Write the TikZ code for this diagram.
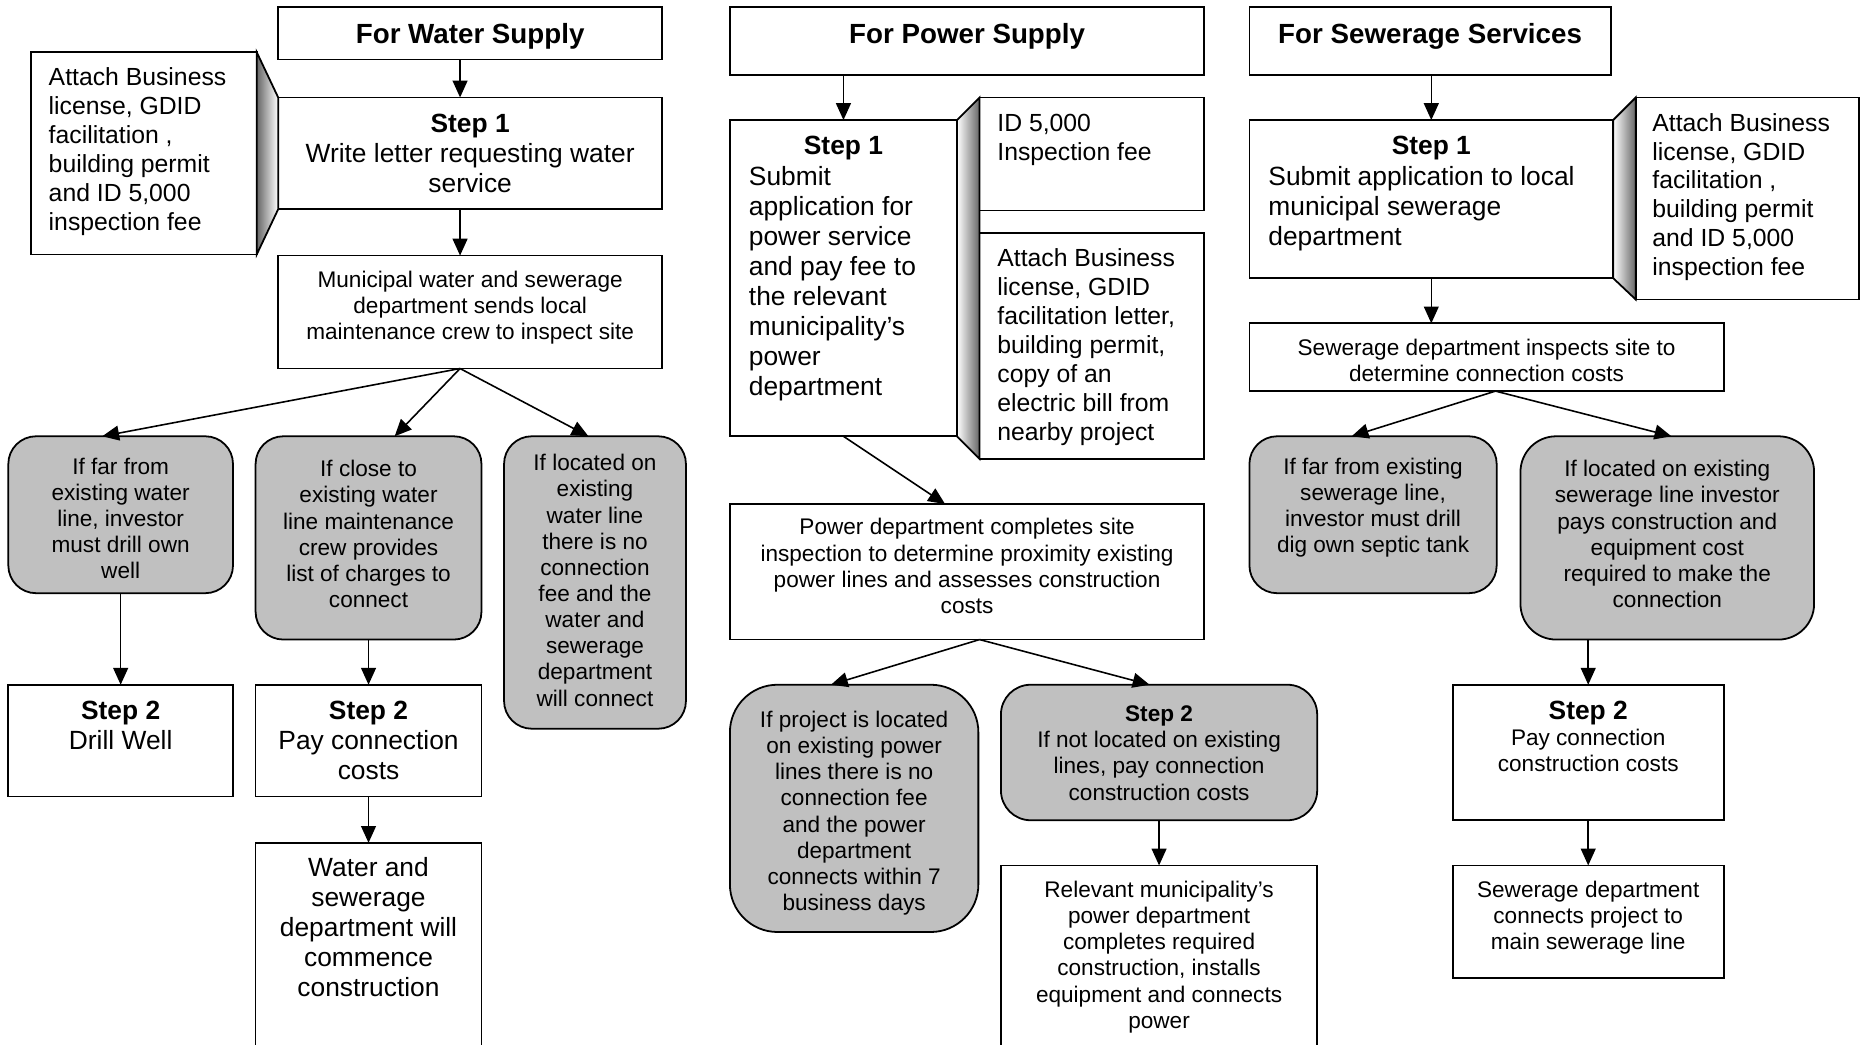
\documentclass[tikz,border=0pt]{standalone}
\usepackage{fontspec}
\setmainfont{Liberation Sans}
\usetikzlibrary{arrows.meta,calc}

\newlength\upx \setlength\upx{0.6pt}
\definecolor{boxgray}{RGB}{192,192,192}
\newcommand\fsm{\fontsize{11.4pt}{13.2pt}\selectfont}
\newcommand\flg{\fontsize{12.5pt}{14.6pt}\selectfont}
\newcommand\fst{\fontsize{13.3pt}{15.2pt}\selectfont}
\newcommand\fttl{\fontsize{14pt}{16pt}\selectfont\bfseries}
\newcommand\algc[1]{\centering\leftskip=#1\upx plus 1fil\rightskip=#1\upx plus 1fil\relax}
\newcommand\algl[1]{\raggedright\leftskip=#1\upx\relax}
% box contents: width, height, first baseline below top, font and alignment, text
\newcommand\boxbody[5]{\begin{minipage}[c][#2\upx][t]{#1\upx}#4\vspace*{\dimexpr#3\upx-\ht\strutbox\relax}\strut#5\par\end{minipage}}

\tikzset{
  bx/.style={draw, line width=0.9pt, inner sep=0pt, outer sep=0pt, anchor=north west, fill=white},
  gbx/.style={bx, fill=boxgray, rounded corners=#1},
  gbx/.default=14pt,
  arr/.style={line width=0.8pt, -{Triangle[length=8.5pt,width=7.5pt]}},
  bevel/.style={draw, line width=0.9pt},
}

\begin{document}
\begin{tikzpicture}[x=0.6pt,y=-0.6pt]
\useasboundingbox (0,0) rectangle (1568,879);
\clip (0,0) rectangle (1568,879);

% ---------------- Water supply ----------------
\node[bx] (t1) at (234,6) {\boxbody{323}{44}{31}{\fttl\algc{4}}{For Water Supply}};
\node[bx] (cw) at (26,44) {\boxbody{190}{170}{28.3}{\flg\algl{15}}{Attach Business\\license, GDID\\facilitation ,\\building permit\\and ID 5,000\\inspection fee}};
\node[bx] (w1) at (234,82) {\boxbody{323}{94}{29.3}{\fst\algc{6}}{\textbf{Step 1}\\Write letter requesting water\\service}};
\node[bx] (w2) at (234,215) {\boxbody{323}{95}{27}{\fsm\algc{6}}{Municipal water and sewerage\\department sends local\\maintenance crew to inspect site}};
\node[gbx] (wa) at (7,367) {\boxbody{189}{132}{32}{\fsm\algc{4}}{If far from\\existing water\\line, investor\\must drill own\\well}};
\node[gbx] (wb) at (215,367) {\boxbody{190}{171}{34}{\fsm\algc{4}}{If close to\\existing water\\line maintenance\\crew provides\\list of charges to\\connect}};
\node[gbx] (wc) at (424,367) {\boxbody{153}{246}{29}{\fsm\algc{4}}{If located on\\existing\\water line\\there is no\\connection\\fee and the\\water and\\sewerage\\department\\will connect}};
\node[bx] (wd) at (7,576) {\boxbody{189}{94}{29.3}{\fst\algc{4}}{\textbf{Step 2}\\Drill Well}};
\node[bx] (we) at (215,576) {\boxbody{190}{94}{29.3}{\fst\algc{4}}{\textbf{Step 2}\\Pay connection\\costs}};
\node[bx] (wf) at (215,709) {\boxbody{190}{200}{28.3}{\fst\algc{4}}{Water and\\sewerage\\department will\\commence\\construction}};

\shade[bevel, left color=black!60, right color=white] (cw.north east) -- (w1.north west) -- (w1.south west) -- (cw.south east) -- cycle;

\coordinate (xw) at (387,0);
\draw[arr] (t1.south -| xw) -- (w1.north -| xw);
\draw[arr] (w1.south -| xw) -- (w2.north -| xw);
\coordinate (w2b) at ($(w2.south west)+(153,0)$);
\draw[arr] (w2b) -- ($(wa.north west)+(79,0)$);
\draw[arr] (w2b) -- ($(wb.north west)+(117,0)$);
\draw[arr] (w2b) -- ($(wc.north west)+(71,0)$);
\draw[arr] (wa.south) -- (wd.north);
\draw[arr] (wb.south) -- (we.north);
\draw[arr] (we.south) -- (wf.north);

% ---------------- Power supply ----------------
\node[bx] (t2) at (614,6) {\boxbody{399}{57}{31}{\fttl\algc{4}}{For Power Supply}};
\node[bx] (p1) at (614,101) {\boxbody{191}{266}{29.3}{\fst\algc{4}}{\textbf{Step 1}\par\raggedright\leftskip=16\upx Submit\\application for\\power service\\and pay fee to\\the relevant\\municipality’s\\power\\department}};
\node[bx] (pa) at (824,82) {\boxbody{189}{95}{28.3}{\flg\algl{15}}{ID 5,000\\Inspection fee}};
\node[bx] (pb) at (824,196) {\boxbody{189}{190}{28.3}{\flg\algl{15}}{Attach Business\\license, GDID\\facilitation letter,\\building permit,\\copy of an\\electric bill from\\nearby project}};
\node[bx] (p2) at (614,424) {\boxbody{399}{114}{26}{\fsm\algc{6}}{Power department completes site\\inspection to determine proximity existing\\power lines and assesses construction\\costs}};
\node[gbx=24pt] (pga) at (614,576) {\boxbody{209}{208}{36}{\fsm\algc{4}}{If project is located\\on existing power\\lines there is no\\connection fee\\and the power\\department\\connects within 7\\business days}};
\node[gbx=15pt] (pgb) at (842,576) {\boxbody{266}{114}{31}{\fsm\algc{4}}{\textbf{Step 2}\\If not located on existing\\lines, pay connection\\construction costs}};
\node[bx] (pc) at (842,728) {\boxbody{266}{200}{27}{\fsm\algc{4}}{Relevant municipality’s\\power department\\completes required\\construction, installs\\equipment and connects\\power}};

\shade[bevel, left color=white, right color=black!60] (p1.north east) -- (pa.north west) -- (pb.south west) -- (p1.south east) -- cycle;

\draw[arr] (t2.south -| p1.north) -- (p1.north);
\draw[arr] (p1.south) -- ($(p2.north west)+(181,0)$);
\coordinate (p2b) at ($(p2.south west)+(210,0)$);
\draw[arr] (p2b) -- ($(pga.north west)+(85,0)$);
\draw[arr] (p2b) -- ($(pgb.north west)+(125,0)$);
\draw[arr] (pgb.south) -- (pc.north);

% ---------------- Sewerage services ----------------
\node[bx] (t3) at (1051,6) {\boxbody{304}{57}{31}{\fttl\algc{4}}{For Sewerage Services}};
\node[bx] (s1) at (1051,101) {\boxbody{306}{133}{29.3}{\fst\algc{4}}{\textbf{Step 1}\par\raggedright\leftskip=16\upx Submit application to local\\municipal sewerage\\department}};
\node[bx] (sc) at (1376,82) {\boxbody{188}{170}{28.3}{\flg\algl{14}}{Attach Business\\license, GDID\\facilitation ,\\building permit\\and ID 5,000\\inspection fee}};
\node[bx] (s2) at (1051,272) {\boxbody{399}{57}{27}{\fsm\algc{6}}{Sewerage department inspects site to\\determine connection costs}};
\node[gbx] (sga) at (1051,367) {\boxbody{208}{132}{32}{\fsm\algc{4}}{If far from existing\\sewerage line,\\investor must drill\\dig own septic tank}};
\node[gbx=18pt] (sgb) at (1279,367) {\boxbody{247}{171}{34}{\fsm\algc{4}}{If located on existing\\sewerage line investor\\pays construction and\\equipment cost\\required to make the\\connection}};
\node[bx] (s3) at (1222,576) {\boxbody{228}{114}{29.3}{\fst\algc{4}}{\textbf{Step 2}\par\fsm Pay connection\\construction costs}};
\node[bx] (s4) at (1222,728) {\boxbody{228}{95}{27}{\fsm\algc{4}}{Sewerage department\\connects project to\\main sewerage line}};

\shade[bevel, left color=white, right color=black!60] (s1.north east) -- (sc.north west) -- (sc.south west) -- (s1.south east) -- cycle;

\draw[arr] (t3.south -| s1.north) -- (s1.north);
\draw[arr] (s1.south) -- (s2.north -| s1.south);
\coordinate (s2b) at ($(s2.south west)+(207,0)$);
\draw[arr] (s2b) -- ($(sga.north west)+(86,0)$);
\draw[arr] (s2b) -- ($(sgb.north west)+(127,0)$);
\draw[arr] (sgb.south -| s3.north) -- (s3.north);
\draw[arr] (s3.south) -- (s4.north);
\end{tikzpicture}
\end{document}
